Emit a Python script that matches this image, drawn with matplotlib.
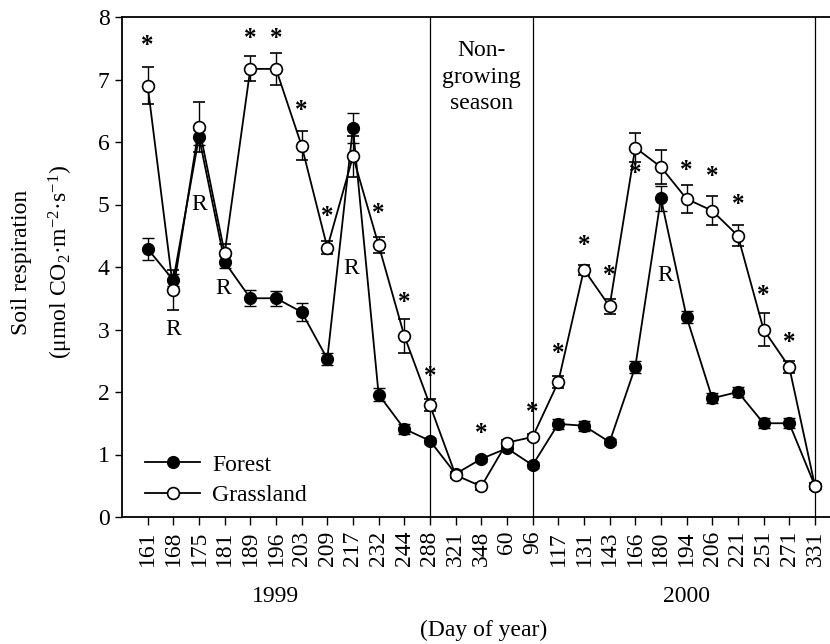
import matplotlib
matplotlib.use("Agg")
import matplotlib.pyplot as plt
from matplotlib.lines import Line2D
import numpy as np

plt.rcParams['font.family'] = ['Liberation Serif', 'DejaVu Serif']
plt.rcParams['mathtext.fontset'] = 'custom'
plt.rcParams['mathtext.rm'] = 'Liberation Serif'
plt.rcParams['mathtext.it'] = 'Liberation Serif:italic'

days = ["161", "168", "175", "181", "189", "196", "203", "209", "217", "232", "244",
        "288", "321", "348", "60", "96", "117", "131", "143", "166", "180", "194",
        "206", "221", "251", "271", "331"]

forest = [4.29, 3.79, 6.08, 4.08, 3.50, 3.50, 3.28, 2.53, 6.23, 1.96, 1.41,
          1.22, 0.69, 0.93, 1.10, 0.83, 1.49, 1.46, 1.20, 2.40, 5.10, 3.20,
          1.90, 2.00, 1.50, 1.50, 0.50]
forest_err = [0.17, 0.10, 0.12, 0.10, 0.13, 0.12, 0.15, 0.10, 0.24, 0.10, 0.08,
              0.05, 0.05, 0.05, 0.05, 0.05, 0.08, 0.08, 0.05, 0.10, 0.20, 0.10,
              0.08, 0.08, 0.08, 0.08, 0.05]

grass = [6.90, 3.63, 6.24, 4.22, 7.17, 7.17, 5.94, 4.31, 5.77, 4.35, 2.90,
         1.79, 0.67, 0.49, 1.19, 1.28, 2.16, 3.96, 3.37, 5.91, 5.60, 5.09,
         4.90, 4.50, 3.00, 2.40, 0.50]
grass_err = [0.30, 0.32, 0.40, 0.15, 0.20, 0.25, 0.23, 0.10, 0.33, 0.13, 0.27,
             0.10, 0.05, 0.05, 0.05, 0.05, 0.10, 0.08, 0.12, 0.23, 0.27, 0.22,
             0.23, 0.17, 0.27, 0.10, 0.05]

# significance asterisks: (category index, y value)
star_idx = [0, 4, 5, 6, 7, 9, 10, 11, 13, 15, 16, 17, 18, 19, 21, 22, 23, 24, 25]
star_y = [7.55, 7.66, 7.66, 6.50, 4.80, 4.86, 3.44, 2.24, 1.33, 1.68, 2.62,
          4.35, 3.87, 5.50, 5.55, 5.45, 5.00, 3.55, 2.80]

# "R" labels: (category position, y value)
r_pos = [1, 2, 2.95, 7.95, 20.15]
r_y = [3.00, 5.00, 3.66, 3.97, 3.87]

season_lines = [11, 15, 26]

x = np.arange(len(days))
FS = 17

fig = plt.figure(figsize=(8.3, 6.44), dpi=100)
ax = fig.add_axes([122/830, (644-517)/644, (830-122)/830, 500/644])

ax.errorbar(x, forest, yerr=forest_err, fmt='-o', color='black', mfc='black',
            mec='black', ms=8.5, lw=1.3, elinewidth=1.0, capsize=4, capthick=1.0,
            zorder=3)
ax.errorbar(x, grass, yerr=grass_err, fmt='-o', color='black', mfc='white',
            mec='black', ms=8.5, mew=1.2, lw=1.3, elinewidth=1.0, capsize=4,
            capthick=1.0, zorder=4)

for xv in season_lines:
    ax.axvline(xv, color='black', lw=0.9, zorder=1)

for xi, yv in zip(star_idx, star_y):
    ax.text(xi, yv, '*', ha='center', va='center', fontsize=18, fontweight='bold')

for xi, yv in zip(r_pos, r_y):
    ax.text(xi, yv, 'R', ha='center', va='center', fontsize=FS)

ax.text(13, 7.04, 'Non-\ngrowing\nseason', ha='center', va='center', fontsize=FS,
        linespacing=1.35)

ax.set_xlim(-1, (830-148)/25.65)
ax.set_ylim(0, 8)
ax.set_xticks(x)
ax.set_xticklabels(days, rotation=90, fontsize=FS)
ax.set_yticks(range(0, 9))
ax.tick_params(axis='y', labelsize=FS, direction='out', length=5, width=1, pad=4)
ax.tick_params(axis='x', direction='out', length=6, width=1, pad=4)
ax.spines['right'].set_visible(False)
for s in ['left', 'bottom', 'top']:
    ax.spines[s].set_linewidth(1.3)

ax.set_ylabel('Soil respiration\n(\u03bcmol CO$_2$\u00b7m$^{-2}$\u00b7s$^{-1}$)',
              fontsize=FS, linespacing=1.75)
ax.yaxis.set_label_coords(-0.066, 0.51)

ax.text(5, -1.28, '1999', ha='center', va='center', fontsize=FS)
ax.text(21, -1.28, '2000', ha='center', va='center', fontsize=FS)
ax.text(13.1, -1.82, '(Day of year)', ha='center', va='center', fontsize=FS)

handles = [Line2D([], [], color='black', lw=1.3, marker='o', mfc='black', mec='black', ms=8.5),
           Line2D([], [], color='black', lw=1.3, marker='o', mfc='white', mec='black', ms=8.5, mew=1.2)]
ax.legend(handles, ['Forest', 'Grassland'], loc='lower left', frameon=False,
          fontsize=FS, handlelength=2.35, handletextpad=0.5, labelspacing=0.38,
          borderaxespad=0.0, borderpad=0.4, bbox_to_anchor=(0.019, 0.003))

fig.savefig('out.png', dpi=100)
